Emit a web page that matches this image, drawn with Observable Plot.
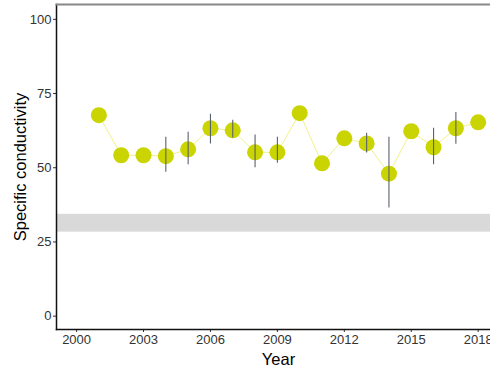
<!DOCTYPE html>
<html>
<head>
<meta charset="utf-8">
<script src="https://cdn.jsdelivr.net/npm/d3@7"></script>
<script src="https://cdn.jsdelivr.net/npm/@observablehq/plot@0.6"></script>
<style>
html, body { margin: 0; padding: 0; overflow: hidden; background: #fff; }
#chart { width: 490px; height: 370px; overflow: hidden; }
#chart svg { max-width: none !important; }
</style>
</head>
<body>
<div id="chart"></div>
<script>
const years = [2001, 2002, 2003, 2004, 2005, 2006, 2007, 2008, 2009, 2010, 2011, 2012, 2013, 2014, 2015, 2016, 2017, 2018];
const values = [67.7, 54.2, 54.2, 53.9, 56.2, 63.3, 62.6, 55.2, 55.2, 68.4, 51.5, 59.9, 58.2, 48.0, 62.3, 56.9, 63.3, 65.3];
const lower = [null, null, null, 48.5, 51.0, 58.0, 60.0, 50.0, 51.5, null, null, null, 55.0, 36.4, null, 51.0, 57.9, null];
const upper = [null, null, null, 60.3, 62.0, 68.0, 66.0, 61.0, 60.3, null, null, null, 61.6, 60.3, null, 63.3, 68.6, null];
const bandLow = 28.3;
const bandHigh = 34.3;
const xTicks = [2000, 2003, 2006, 2009, 2012, 2015, 2018];
const yTicks = [0, 25, 50, 75, 100];

const data = years.map((year, i) => ({year, value: values[i], lo: lower[i], hi: upper[i]}));
const errs = data.filter(d => d.lo != null);

const chart = Plot.plot({
  width: 510,
  height: 370,
  marginLeft: 56,
  marginRight: 10,
  marginTop: 4,
  marginBottom: 41,
  style: {fontFamily: "Liberation Sans, Arial, sans-serif", fontSize: "12px", background: "#fff", maxWidth: "none"},
  x: {domain: [1999.1, 2019]},
  y: {domain: [-4.5, 105]},
  marks: [
    Plot.rect([{lo: bandLow, hi: bandHigh}], {y1: "lo", y2: "hi", fill: "#d9d9d9"}),
    Plot.line(data, {x: "year", y: "value", stroke: "#f1f28a", strokeWidth: 1}),
    Plot.dot(data, {x: "year", y: "value", r: 8, fill: "#c9d400"}),
    Plot.ruleX(errs, {x: "year", y1: "lo", y2: "hi", stroke: "#5b6170", strokeWidth: 1.1}),
    Plot.axisX({ticks: xTicks, tickFormat: "d", tickSize: 3, tickPadding: 2, fontSize: 13, color: "#333", label: "Year", labelAnchor: "center", labelArrow: "none", labelOffset: 35}),
    Plot.axisY({ticks: yTicks, tickSize: 3, tickPadding: 2, fontSize: 13, color: "#333", label: "Specific conductivity", labelAnchor: "center", labelArrow: "none", labelOffset: 42}),
    Plot.frame({anchor: "left", stroke: "#111", strokeWidth: 1.5}),
    Plot.frame({anchor: "bottom", stroke: "#111", strokeWidth: 1.5}),
    Plot.frame({anchor: "top", stroke: "#888", strokeWidth: 2})
  ]
});
chart.style.maxWidth = "none";
chart.querySelectorAll("g[aria-label='x-axis label'] text, g[aria-label='y-axis label'] text").forEach(t => {
  t.style.fontSize = "16.5px";
  t.style.fill = "#000";
});
document.getElementById("chart").appendChild(chart);
</script>
</body>
</html>
